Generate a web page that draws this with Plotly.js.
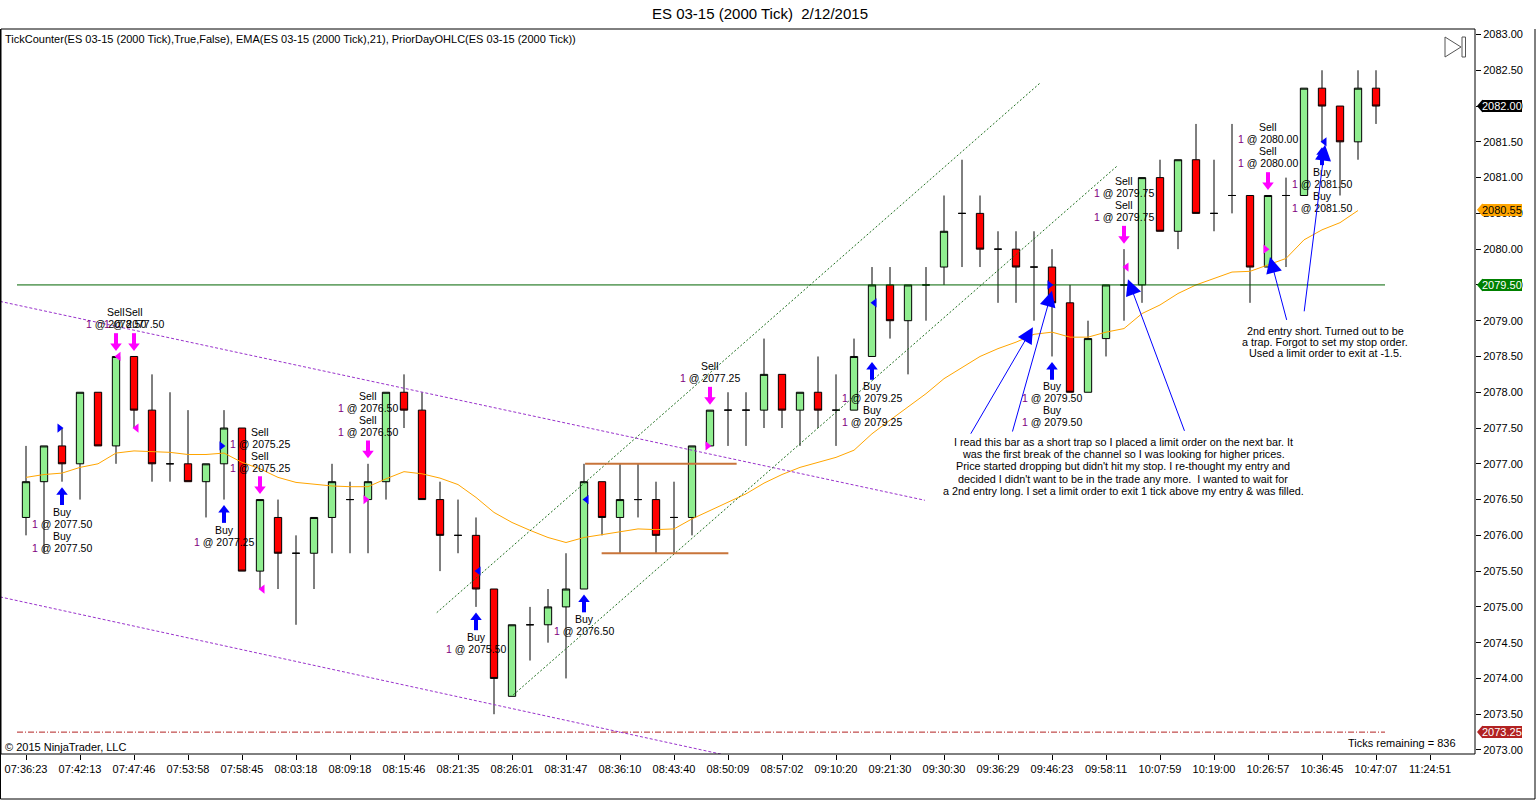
<!DOCTYPE html>
<html><head><meta charset="utf-8">
<script src="https://cdn.plot.ly/plotly-3.0.1.min.js"></script>
<style>html,body{margin:0;padding:0;background:#fff;overflow:hidden}#chart{width:1536px;height:800px}</style>
</head><body><div id="chart"></div>
<script>
// ---------------- DATA ----------------
const opens  = [2076.25,2076.75,2077.25,2077.00,2078.00,2077.25,2078.50,2077.75,2077.00,2077.00,
                2076.75,2077.00,2077.50,2075.50,2076.25,2075.75,2075.75,2076.25,2076.50,2076.50,
                2076.75,2078.00,2077.75,2076.50,2076.00,2076.00,2075.25,2073.75,2074.75,2074.75,
                2075.00,2075.25,2076.75,2076.25,2076.50,2076.50,2076.25,2076.25,2077.25,2077.75,
                2077.75,2077.75,2078.25,2077.75,2078.00,2077.75,2077.75,2078.50,2079.50,2079.00,
                2079.50,2079.75,2080.50,2080.50,2080.00,2080.00,2079.75,2079.75,2079.25,2078.00,
                2078.75,2079.50,2079.50,2081.00,2080.25,2081.25,2080.50,2080.75,2080.75,2079.75,
                2080.75,2080.75,2082.25,2082.00,2081.50,2082.25];
const highs  = [2077.25,2077.25,2077.50,2078.00,2078.00,2078.50,2078.50,2078.25,2078.00,2077.75,
                2077.00,2077.75,2077.50,2076.50,2076.50,2076.00,2076.25,2077.00,2076.75,2077.00,
                2078.00,2078.25,2078.00,2076.75,2076.50,2076.25,2075.25,2074.75,2075.00,2075.25,
                2075.75,2077.00,2076.75,2077.00,2077.00,2076.75,2076.75,2077.25,2077.75,2078.00,
                2078.00,2078.75,2078.25,2078.00,2078.50,2078.25,2078.75,2079.75,2079.75,2079.50,
                2079.75,2080.75,2081.25,2080.75,2080.25,2080.25,2080.25,2080.00,2079.50,2079.00,
                2079.50,2080.00,2081.00,2081.25,2081.25,2081.75,2081.25,2081.75,2080.75,2080.75,
                2081.00,2082.25,2082.50,2082.00,2082.50,2082.50];
const lows   = [2076.00,2075.75,2076.75,2076.50,2077.25,2077.00,2077.50,2076.75,2076.75,2076.75,
                2076.25,2076.50,2075.50,2075.25,2075.25,2074.75,2075.25,2075.75,2075.75,2075.75,
                2076.50,2077.50,2076.50,2075.50,2075.75,2075.00,2073.50,2073.75,2074.25,2074.50,
                2074.00,2075.25,2076.00,2075.75,2076.25,2075.75,2075.75,2076.00,2077.25,2077.25,
                2077.25,2077.50,2077.50,2077.25,2077.50,2077.25,2077.75,2078.50,2078.75,2078.25,
                2079.00,2079.50,2079.75,2079.75,2079.25,2079.25,2079.00,2078.50,2078.00,2078.00,
                2078.50,2079.00,2079.25,2080.25,2080.00,2080.50,2080.25,2080.50,2079.25,2079.75,
                2079.75,2080.75,2081.50,2080.75,2081.25,2081.75];
const closes = [2076.75,2077.25,2077.00,2078.00,2077.25,2078.50,2077.75,2077.00,2077.00,2076.75,
                2077.00,2077.50,2075.50,2076.50,2075.75,2075.75,2076.25,2076.75,2076.50,2076.75,
                2078.00,2077.75,2076.50,2076.00,2076.00,2075.25,2074.00,2074.75,2074.75,2075.00,
                2075.25,2076.75,2076.25,2076.50,2076.50,2076.00,2076.25,2077.25,2077.75,2077.75,
                2077.75,2078.25,2077.75,2078.00,2077.75,2077.75,2078.50,2079.50,2079.00,2079.50,
                2079.50,2080.25,2080.50,2080.00,2080.00,2079.75,2079.75,2079.25,2078.00,2078.75,
                2079.50,2079.50,2081.00,2080.25,2081.25,2080.50,2080.50,2080.75,2079.75,2080.75,
                2080.75,2082.25,2082.00,2081.50,2082.25,2082.00];
const ema21  = [2076.81,2076.85,2076.87,2076.95,2077.00,2077.15,2077.18,2077.17,2077.16,2077.13,
                2077.13,2077.15,2077.02,2076.93,2076.81,2076.74,2076.71,2076.69,2076.68,2076.68,
                2076.79,2076.89,2076.86,2076.80,2076.71,2076.53,2076.32,2076.18,2076.07,2075.97,
                2075.90,2075.97,2076.01,2076.05,2076.09,2076.08,2076.09,2076.23,2076.35,2076.46,
                2076.58,2076.73,2076.85,2076.95,2077.02,2077.09,2077.19,2077.42,2077.61,2077.79,
                2077.98,2078.19,2078.35,2078.50,2078.61,2078.70,2078.81,2078.84,2078.77,2078.77,
                2078.84,2078.89,2079.10,2079.22,2079.38,2079.50,2079.59,2079.68,2079.69,2079.78,
                2079.87,2080.13,2080.27,2080.37,2080.54,null];
const timeLabels = ["07:36:23","07:42:13","07:47:46","07:53:58","07:58:45","08:03:18","08:09:18",
                "08:15:46","08:21:35","08:26:01","08:31:47","08:36:10","08:43:40","08:50:09",
                "08:57:02","09:10:20","09:21:30","09:30:30","09:36:29","09:46:23","09:58:11",
                "10:07:59","10:19:00","10:26:57","10:36:45","10:47:07","11:24:51"];
const tradeBars   = [3,6,7,12,14,20,26,32,39,48,58,62,70,73];
const tradeSides  = ["Buy","Sell","Sell","Buy","Sell","Sell","Buy","Buy","Sell","Buy","Buy","Sell","Sell","Buy"];
const tradePrices = [2077.50,2078.50,2077.50,2077.25,2075.25,2076.50,2075.50,2076.50,2077.25,2079.25,2079.50,2079.75,2080.00,2081.50];
const tradeFills  = [2,1,1,1,2,2,1,1,1,2,2,2,2,2];
const fillMarkDir = ["r","l","l","r","l","r","l","l","r","l","r","l","r","l"];
const priorDayClose = 2079.50;
const priorDayLow = 2073.25;
const lastPrice = 2082.00;
const emaLast = 2080.55;
const ticksRemaining = 836;
// drawn objects (bar index, price)
const purpleUpper = {x:[-0.444,50.94], y:[2079.27,2076.49]};
const purpleLower = {x:[-0.444,39.83], y:[2075.14,2072.93]};
const greenUpper  = {x:[23.82,57.33], y:[2074.92,2082.32]};
const greenLower  = {x:[28.07,61.61], y:[2073.77,2081.16]};
const rangeTop    = {x:[32.06,40.48], y:2077.00};
const rangeBottom = {x:[32.98,40.02], y:2075.75};
const noteArrowTail = [[53.44,2077.40],[55.78,2077.43],[65.39,2077.44],[71.06,2078.99],[72.0,2079.11]];
const noteArrowTip  = [[56.94,2078.91],[58.00,2079.42],[62.22,2079.58],[70.11,2079.89],[73.17,2081.46]];
const note1 = ["I read this bar as a short trap so I placed a limit order on the next bar. It",
  "was the first break of the channel so I was looking for higher prices.",
  "Price started dropping but didn't hit my stop. I re-thought my entry and",
  "decided I didn't want to be in the trade any more.  I wanted to wait for",
  "a 2nd entry long. I set a limit order to exit 1 tick above my entry & was filled."];
const note2 = ["2nd entry short. Turned out to be","a trap. Forgot to set my stop order.","Used a limit order to exit at -1.5."];

// ---------------- LAYOUT CONSTANTS ----------------
const FONT = '"Liberation Sans", Arial, sans-serif';
const M = {l:1, r:61, t:29, b:46};
const PW = 1536 - M.l - M.r, PH = 800 - M.t - M.b;
const yRange = [2072.944, 2083.077];
const xRange = [-0.389, -0.389 + PW/18];
const ppx = (yRange[1]-yRange[0])/PH;   // price per pixel
const px = x => (x - M.l)/PW;           // pixel -> paper x
const py = y => (800 - M.b - y)/PH;     // pixel -> paper y

const barIdx = opens.map((_, i) => i + 1);
const BLUE = '#0000FF', MAG = '#FF00FF';

const traces = [];
traces.push({type:'candlestick', x:barIdx, open:opens, high:highs, low:lows, close:closes,
  increasing:{line:{color:'#000', width:1}, fillcolor:'#90EE90'},
  decreasing:{line:{color:'#000', width:1}, fillcolor:'#FF0000'},
  whiskerwidth:0, hoverinfo:'none', showlegend:false});
traces.push({type:'scatter', mode:'lines', x:barIdx, y:ema21, line:{color:'#FFA500', width:1}, hoverinfo:'none', showlegend:false});
traces.push({type:'scatter', mode:'lines', x:[0.5, barIdx.length+0.5], y:[priorDayClose, priorDayClose], line:{color:'#006400', width:1}, hoverinfo:'none', showlegend:false});
traces.push({type:'scatter', mode:'lines', x:[0.5, barIdx.length+0.5], y:[priorDayLow, priorDayLow], line:{color:'#B22222', width:1, dash:'6px,2px,1px,2px'}, hoverinfo:'none', showlegend:false});

// trade arrows
const bx=[], by=[], bsx=[], bsy=[], sx=[], sy=[], ssx=[], ssy=[];
tradeBars.forEach((b, k) => {
  if (tradeSides[k] === 'Buy') {
    bx.push(b); by.push(lows[b-1] - 10.5*ppx); bsx.push(b); bsy.push(lows[b-1] - 17*ppx);
  } else {
    sx.push(b); sy.push(highs[b-1] + 10.5*ppx); ssx.push(b); ssy.push(highs[b-1] + 17*ppx);
  }
});
traces.push({type:'scatter', mode:'markers', x:bsx, y:bsy, marker:{symbol:'line-ns', size:9, line:{color:BLUE, width:4}}, hoverinfo:'none', showlegend:false});
traces.push({type:'scatter', mode:'markers', x:bx, y:by, marker:{symbol:'triangle-up', size:10, color:BLUE, line:{width:0}}, hoverinfo:'none', showlegend:false});
traces.push({type:'scatter', mode:'markers', x:ssx, y:ssy, marker:{symbol:'line-ns', size:9, line:{color:MAG, width:4}}, hoverinfo:'none', showlegend:false});
traces.push({type:'scatter', mode:'markers', x:sx, y:sy, marker:{symbol:'triangle-down', size:10, color:MAG, line:{width:0}}, hoverinfo:'none', showlegend:false});
// fill markers
traces.push({type:'scatter', mode:'markers',
  x:tradeBars.map((b,k)=> b + (fillMarkDir[k]==='r' ? -0.14 : 0.14)),
  y:tradePrices,
  marker:{symbol:fillMarkDir.map(d => d==='r' ? 'triangle-right' : 'triangle-left'), size:8,
    color:tradeSides.map(s => s==='Buy' ? BLUE : MAG), line:{width:0}},
  hoverinfo:'none', showlegend:false});

// ---------------- ANNOTATIONS ----------------
const ann = [];
tradeBars.forEach((b, k) => {
  const lines = [];
  for (let f = 0; f < tradeFills[k]; f++) {
    lines.push(tradeSides[k]);
    lines.push('<span style="color:#800080">1</span> @ ' + tradePrices[k].toFixed(2));
  }
  const buy = tradeSides[k] === 'Buy';
  lines.forEach((t, j) => {
    ann.push({x:b, y: buy ? lows[b-1] : highs[b-1], xref:'x', yref:'y', text:t, showarrow:false,
      xanchor:'center', yanchor:'middle',
      yshift: buy ? -(30 + 12*j) : (32 + 12*(lines.length-1-j)),
      font:{family:FONT, size:10.5, color:'#000'}});
  });
});
note1.forEach((t, j) => ann.push({xref:'paper', yref:'paper', x:px(1123), y:py(442 + 12.2*j), text:t, showarrow:false,
  xanchor:'center', yanchor:'middle', font:{family:FONT, size:10.8, color:'#000'}}));
note2.forEach((t, j) => ann.push({xref:'paper', yref:'paper', x:px(1325), y:py(331 + 10.8*j), text:t, showarrow:false,
  xanchor:'center', yanchor:'middle', font:{family:FONT, size:10.8, color:'#000'}}));
noteArrowTip.forEach((tip, k) => ann.push({x:tip[0], y:tip[1], ax:noteArrowTail[k][0], ay:noteArrowTail[k][1],
  xref:'x', yref:'y', axref:'x', ayref:'y', text:'', showarrow:true, arrowhead:2, arrowsize:3.2, arrowwidth:1,
  arrowcolor:BLUE, standoff:0}));
// indicator header, copyright, ticks remaining
ann.push({xref:'paper', yref:'paper', x:px(3), y:py(39), xanchor:'left', yanchor:'middle', showarrow:false,
  text:'TickCounter(ES 03-15 (2000 Tick),True,False), EMA(ES 03-15 (2000 Tick),21), PriorDayOHLC(ES 03-15 (2000 Tick))',
  font:{family:FONT, size:11, color:'#000'}});
ann.push({xref:'paper', yref:'paper', x:px(3), y:py(747), xanchor:'left', yanchor:'middle', showarrow:false,
  text:'© 2015 NinjaTrader, LLC', font:{family:FONT, size:11, color:'#000'}});
ann.push({xref:'paper', yref:'paper', x:px(1458), y:py(743), xanchor:'right', yanchor:'middle', showarrow:false,
  text:'Ticks remaining = ' + ticksRemaining, font:{family:FONT, size:11, color:'#000'}});
// right-axis price flags
const flags = [
  {v:lastPrice, bg:'#000000', fg:'#FFFFFF'},
  {v:emaLast, bg:'#FFA500', fg:'#000000'},
  {v:priorDayClose, bg:'#008000', fg:'#FFFFFF'},
  {v:priorDayLow, bg:'#B22222', fg:'#FFFFFF'}];
const shapes = [];
flags.forEach(f => {
  ann.push({xref:'paper', yref:'y', x:px(1482), y:f.v, xanchor:'left', yanchor:'middle', showarrow:false,
    text:f.v.toFixed(2), bgcolor:f.bg, bordercolor:f.bg, borderwidth:0, borderpad:0,
    font:{family:FONT, size:11, color:f.fg}});
  shapes.push({type:'path', xref:'paper', yref:'y', layer:'above',
    path:`M ${px(1477)},${f.v} L ${px(1482.5)},${f.v + 6.5*ppx} L ${px(1482.5)},${f.v - 6.5*ppx} Z`,
    fillcolor:f.bg, line:{width:0}});
});

// ---------------- SHAPES ----------------
const seg = (o, color, dash, width) => ({type:'line', xref:'x', yref:'y', x0:o.x[0], x1:o.x[1],
  y0:Array.isArray(o.y) ? o.y[0] : o.y, y1:Array.isArray(o.y) ? o.y[1] : o.y, line:{color, dash, width}});
shapes.push(seg(purpleUpper, '#9932CC', '3px,2px', 1));
shapes.push(seg(purpleLower, '#9932CC', '3px,2px', 1));
shapes.push(seg(greenUpper, '#1F6F1F', '2px,2px', 1));
shapes.push(seg(greenLower, '#1F6F1F', '2px,2px', 1));
shapes.push(seg(rangeTop, '#C8743A', 'solid', 2));
shapes.push(seg(rangeBottom, '#C8743A', 'solid', 2));
// plot frame + outer frame
shapes.push({type:'rect', xref:'paper', yref:'paper', x0:0, x1:1, y0:0, y1:1, line:{color:'#000', width:1}});
shapes.push({type:'line', xref:'paper', yref:'paper', x0:px(0.5), x1:px(0.5), y0:py(799), y1:1, line:{color:'#000', width:1}});
shapes.push({type:'line', xref:'paper', yref:'paper', x0:px(0.5), x1:px(1535), y0:py(799), y1:py(799), line:{color:'#000', width:1}});
shapes.push({type:'line', xref:'paper', yref:'paper', x0:px(1535), x1:px(1535), y0:py(799), y1:py(29), line:{color:'#000', width:1}});
// "skip to end" icon
shapes.push({type:'path', xref:'paper', yref:'paper',
  path:`M ${px(1445)},${py(37)} L ${px(1461)},${py(47)} L ${px(1445)},${py(57)} Z`, line:{color:'#555', width:1}, fillcolor:'rgba(0,0,0,0)'});
shapes.push({type:'rect', xref:'paper', yref:'paper', x0:px(1462), x1:px(1465.5), y0:py(57), y1:py(37), line:{color:'#555', width:1}});

const layout = {
  width:1536, height:800, margin:M, paper_bgcolor:'#fff', plot_bgcolor:'#fff',
  showlegend:false, boxgap:0.42, hovermode:false, dragmode:false,
  title:{text:'ES 03-15 (2000 Tick)  2/12/2015', x:760/1536, xref:'container', y:1-14/800, yref:'container',
    xanchor:'center', yanchor:'middle', font:{family:FONT, size:15, color:'#000'}},
  xaxis:{type:'linear', range:xRange, tickmode:'array', tickvals:timeLabels.map((_, k) => 1 + 3*k), ticktext:timeLabels,
    ticks:'outside', ticklen:5, tickcolor:'#000', showgrid:false, zeroline:false, showline:false,
    tickfont:{family:FONT, size:11, color:'#000'}, rangeslider:{visible:false}, fixedrange:true},
  yaxis:{side:'right', range:yRange, tick0:2073, dtick:0.5, tickformat:'.2f', ticks:'outside', ticklen:5,
    tickcolor:'#000', showgrid:false, zeroline:false, showline:false,
    tickfont:{family:FONT, size:11, color:'#000'}, fixedrange:true},
  annotations:ann, shapes:shapes
};
Plotly.newPlot('chart', traces, layout, {staticPlot:true, displayModeBar:false});
</script></body></html>
